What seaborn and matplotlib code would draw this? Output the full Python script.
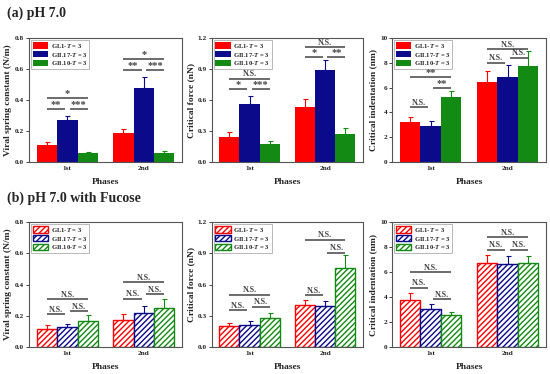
import numpy as np
import pandas as pd
import seaborn as sns
import matplotlib.pyplot as plt
from matplotlib.patches import Patch
from matplotlib.ticker import FormatStrFormatter

sns.set_style("ticks")
plt.rcParams['font.family'] = ['Liberation Serif', 'DejaVu Serif']
plt.rcParams['font.weight'] = 'bold'
plt.rcParams['mathtext.fontset'] = 'custom'
plt.rcParams['mathtext.it'] = 'Liberation Serif:italic:bold'
plt.rcParams['mathtext.rm'] = 'Liberation Serif:bold'
plt.rcParams['hatch.linewidth'] = 1.0

### data
phases = ["1st", "2nd"]
strains = ["GL1", "GII.17", "GII.10"]
labels = ["GL1-$T$ = 3", "GII.17-$T$ = 3", "GII.10-$T$ = 3"]
colors = ["#ff0000", "#0a0a8a", "#138a13"]

# (a) pH 7.0 -- values per phase, order GL1, GII.17, GII.10
spring_a = [[0.11, 0.27, 0.055], [0.19, 0.48, 0.06]]
spring_a_err = [[0.02, 0.03, 0.01], [0.02, 0.07, 0.01]]
force_a = [[0.245, 0.56, 0.177], [0.53, 0.887, 0.268]]
force_a_err = [[0.045, 0.08, 0.03], [0.08, 0.10, 0.065]]
indent_a = [[3.2, 2.88, 5.24], [6.42, 6.83, 7.77]]
indent_a_err = [[0.43, 0.40, 0.51], [0.95, 0.97, 1.21]]

# (b) pH 7.0 with Fucose
spring_b = [[0.118, 0.129, 0.167], [0.172, 0.219, 0.253]]
spring_b_err = [[0.026, 0.021, 0.037], [0.038, 0.041, 0.052]]
force_b = [[0.203, 0.215, 0.28], [0.40, 0.395, 0.762]]
force_b_err = [[0.032, 0.033, 0.05], [0.056, 0.049, 0.122]]
indent_b = [[3.75, 3.03, 2.55], [6.7, 6.65, 6.73]]
indent_b_err = [[0.57, 0.40, 0.29], [0.67, 0.67, 0.54]]

# significance: (phase, bar from, bar to, height, label)
sig_spring_a = [(0, 0, 2, 0.41, "*"), (0, 0, 1, 0.345, "**"), (0, 1, 2, 0.345, "***"),
                (1, 0, 2, 0.665, "*"), (1, 0, 1, 0.595, "**"), (1, 1, 2, 0.595, "***")]
sig_force_a = [(0, 0, 2, 0.805, "N.S."), (0, 0, 1, 0.705, "*"), (0, 1, 2, 0.705, "***"),
               (1, 0, 2, 1.11, "N.S."), (1, 0, 1, 1.02, "*"), (1, 1, 2, 1.02, "**")]
sig_indent_a = [(0, 0, 2, 6.83, "**"), (0, 1, 2, 5.97, "**"), (0, 0, 1, 4.41, "N.S."),
                (1, 0, 2, 9.11, "N.S."), (1, 0, 1, 8.0, "N.S."), (1, 1, 2, 8.39, "N.S.")]
sig_spring_b = [(0, 0, 2, 0.307, "N.S."), (0, 0, 1, 0.21, "N.S."), (0, 1, 2, 0.23, "N.S."),
                (1, 0, 2, 0.414, "N.S."), (1, 0, 1, 0.311, "N.S."), (1, 1, 2, 0.337, "N.S.")]
sig_force_b = [(0, 0, 2, 0.505, "N.S."), (0, 0, 1, 0.354, "N.S."), (0, 1, 2, 0.386, "N.S."),
               (1, 0, 2, 1.03, "N.S."), (1, 0, 1, 0.498, "N.S."), (1, 1, 2, 0.907, "N.S.")]
sig_indent_b = [(0, 0, 2, 5.98, "N.S."), (0, 0, 1, 4.72, "N.S."), (0, 1, 2, 3.83, "N.S."),
                (1, 0, 2, 8.79, "N.S."), (1, 0, 1, 7.77, "N.S."), (1, 1, 2, 7.77, "N.S.")]

ylabels = ["Viral spring constant (N/m)", "Critical force (nN)", "Critical indentation (nm)"]
ylims = [(0, 0.8), (0, 1.2), (0, 10)]
yticks = [np.arange(0, 0.81, 0.2), np.arange(0, 1.21, 0.3), np.arange(0, 10.1, 2)]
yfmt = ["%.1f", "%.1f", "%d"]

rows = [
    [(spring_a, spring_a_err, sig_spring_a), (force_a, force_a_err, sig_force_a),
     (indent_a, indent_a_err, sig_indent_a)],
    [(spring_b, spring_b_err, sig_spring_b), (force_b, force_b_err, sig_force_b),
     (indent_b, indent_b_err, sig_indent_b)],
]

fig = plt.figure(figsize=(5.5, 3.74), dpi=100)
lefts = [0.053, 0.385, 0.713]
widths = [0.278, 0.275, 0.28]
bottoms = [0.567, 0.072]
heights = [0.331, 0.334]
edge = "#555555"
hatch = "//////"

for r, row in enumerate(rows):
    hatched = r == 1
    for c, (vals, errs, sigs) in enumerate(row):
        ax = fig.add_axes([lefts[c], bottoms[r], widths[c], heights[r]])
        df = pd.DataFrame([(p, s, vals[i][j], errs[i][j])
                           for i, p in enumerate(phases) for j, s in enumerate(strains)],
                          columns=["phase", "strain", "value", "err"])
        sns.barplot(data=df, x="phase", y="value", hue="strain", hue_order=strains,
                    palette=colors, errorbar=None, width=0.8, saturation=1,
                    ax=ax, legend=False)
        bar_conts = list(ax.containers)
        centers = {}
        for j, cont in enumerate(bar_conts):
            for i, bar in enumerate(cont.patches):
                x = bar.get_x() + bar.get_width() / 2
                centers[(i, j)] = x
                if hatched:
                    bar.set_facecolor("white")
                    bar.set_edgecolor(colors[j])
                    bar.set_hatch(hatch)
                    bar.set_linewidth(1.0)
                else:
                    bar.set_edgecolor("none")
                ax.errorbar(x, vals[i][j], yerr=[[0], [errs[i][j]]], fmt="none",
                            ecolor=colors[j], elinewidth=0.8, capsize=1.8, capthick=0.8)
        for (i, a, b, y, lab) in sigs:
            x0 = centers[(i, a)] + (0.03 if a == 1 else 0)
            x1 = centers[(i, b)] - (0.03 if b == 1 else 0)
            ax.plot([x0, x1], [y, y], color="#444444", lw=1.1, solid_capstyle="butt")
            star = lab.startswith("*")
            ax.text((x0 + x1) / 2, y + ylims[c][1] * (0.0 if star else 0.005), lab,
                    ha="center", va="bottom", fontsize=7.5 if star else 5.8,
                    color="#444444", fontweight="bold", zorder=6)
        ax.set_ylim(*ylims[c])
        ax.set_xlim(-0.5, 1.5)
        ax.set_yticks(yticks[c])
        ax.yaxis.set_major_formatter(FormatStrFormatter(yfmt[c]))
        ax.set_ylabel(ylabels[c], fontsize=6.8, fontweight="bold", labelpad=2)
        ax.set_xlabel("Phases", fontsize=6.8, fontweight="bold", labelpad=5)
        ax.tick_params(labelsize=5.2, length=2, width=0.6, pad=1.5, colors="#222222")
        ax.tick_params(axis="x", length=0, pad=3)
        for sp in ax.spines.values():
            sp.set_visible(True)
            sp.set_color(edge)
            sp.set_linewidth(0.8)
        if hatched:
            handles = [Patch(facecolor="white", edgecolor=col, hatch=hatch, label=l)
                       for col, l in zip(colors, labels)]
        else:
            handles = [Patch(facecolor=col, edgecolor="none", label=l)
                       for col, l in zip(colors, labels)]
        leg = ax.legend(handles=handles, loc="upper left", fontsize=4.8, frameon=True,
                        fancybox=False, edgecolor="#999999", handlelength=2.3,
                        handleheight=1.05, labelspacing=0.12, borderpad=0.25,
                        handletextpad=0.4, borderaxespad=0.3)
        leg.get_frame().set_linewidth(0.6)
        leg.set_zorder(5)

fig.text(0.012, 0.965, "(a) pH 7.0", fontsize=10, fontweight="bold", va="center")
fig.text(0.012, 0.47, "(b) pH 7.0 with Fucose", fontsize=10, fontweight="bold", va="center")

fig.savefig("out.png", dpi=100)
